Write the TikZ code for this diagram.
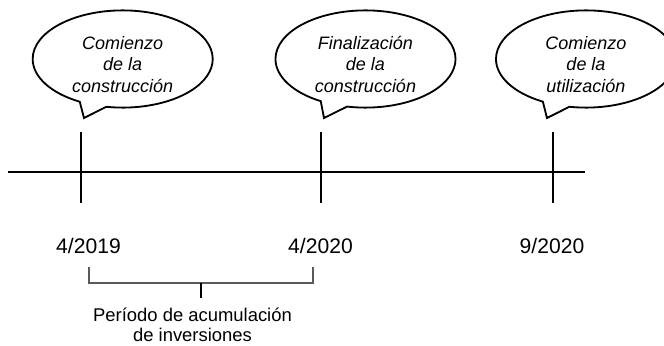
\documentclass[tikz,border=0pt]{standalone}
\usepackage{fontspec}
\setmainfont{Liberation Sans}
\usetikzlibrary{shapes.callouts, positioning}
\tikzset{
  bubble/.style={
    ellipse callout, draw=black, line width=1.3pt, fill=white,
    minimum width=4.5cm, minimum height=2.43cm, inner sep=0pt,
    callout pointer arc=18, text height=10pt, text depth=23.8pt,
    font=\fontsize{12.8}{15.3}\selectfont\itshape
  },
  datelbl/.style={font=\fontsize{15}{18}\selectfont, inner sep=0pt},
  note/.style={font=\fontsize{13.1}{14.2}\selectfont, align=center, inner sep=0pt},
  axisline/.style={line width=1.4pt},
  tickline/.style={line width=1.5pt},
  bracket/.style={line width=0.8pt, draw=black!65},
}
\newcommand{\bubtext}[3]{%
  \begin{tabular}[t]{@{}c@{}}#1\\#2\\#3\end{tabular}}
\begin{document}
\begin{tikzpicture}[x=0.025cm, y=0.025cm]
  \useasboundingbox (0,0) rectangle (664,345);
  \clip (0,0) rectangle (664,345);

  % Timeline
  \coordinate (tl-start) at (8,173);
  \coordinate (tl-end) at (585,173);
  \draw[axisline] (tl-start) -- (tl-end);

  % Ticks
  \foreach \name/\x in {t1/81, t2/321, t3/553} {
    \coordinate (\name-top) at (\x,213);
    \coordinate (\name-bot) at (\x,142);
    \draw[tickline] (\name-top) -- (\name-bot);
  }

  % Callout tips
  \coordinate (tip1) at (84,227);
  \coordinate (tip2) at (324,227);
  \coordinate (tip3) at (547,227);

  % Bubbles
  \node[bubble, callout absolute pointer=(tip1)] (b1) at (122.7,286)
    {\bubtext{Comienzo}{de la}{construcción}};
  \node[bubble, callout absolute pointer=(tip2)] (b2) at (365.5,286)
    {\bubtext{Finalización}{de la}{construcción}};
  \node[bubble, callout absolute pointer=(tip3)] (b3) at (586,286)
    {\bubtext{Comienzo}{de la}{utilización}};

  % Dates
  \node[datelbl] (d1) at (88.5,99) {4/2019};
  \node[datelbl] (d2) at (320.5,99) {4/2020};
  \node[datelbl] (d3) at (552,99) {9/2020};

  % Bracket
  \coordinate (br-l) at (89,78);
  \coordinate (br-r) at (313,78);
  \coordinate (br-m) at (201,62);
  \coordinate (br-s) at (201,47);
  \draw[bracket] (br-l) |- (br-m) -| (br-r);
  \draw[tickline, line width=1.1pt] (br-m) -- (br-s);

  % Label
  \node[note] (per) at (192.5,20) {Período de acumulación\\de inversiones};

\end{tikzpicture}
\end{document}
